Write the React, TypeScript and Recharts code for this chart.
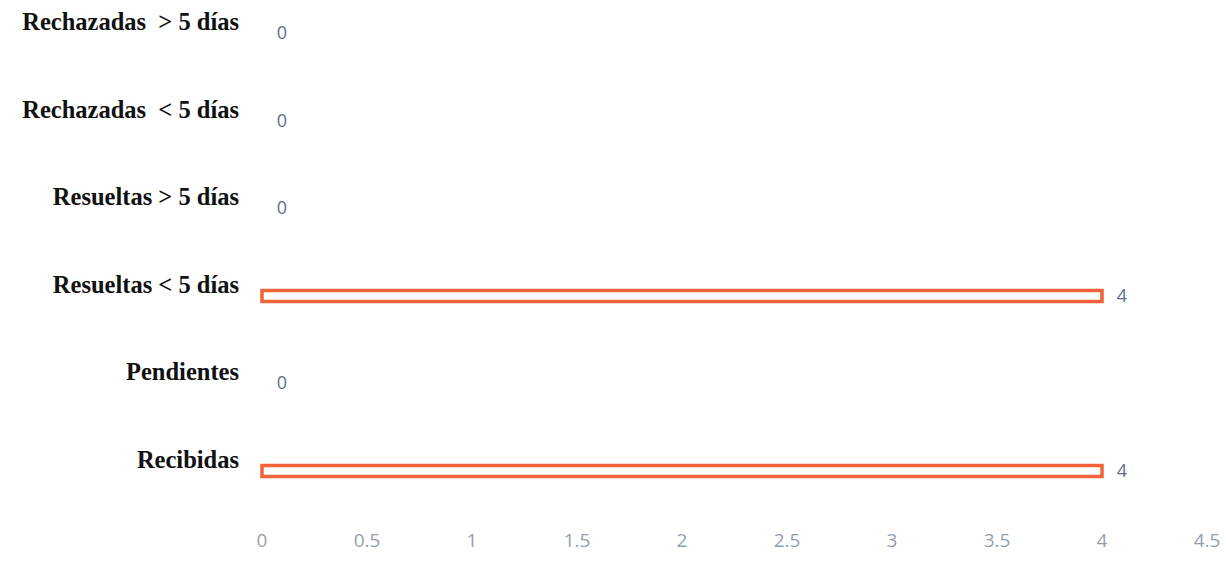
import React from "react";
import { BarChart, Bar, XAxis, YAxis } from "recharts";

const categories = [
  "Rechazadas  > 5 días",
  "Rechazadas  < 5 días",
  "Resueltas > 5 días",
  "Resueltas < 5 días",
  "Pendientes",
  "Recibidas",
];
const values = [0, 0, 0, 4, 0, 4];
const xTicks = [0, 0.5, 1, 1.5, 2, 2.5, 3, 3.5, 4, 4.5];

const data = categories.map((c, i) => ({ name: c, value: values[i] }));

const YTick = (props: any) => {
  const { x, y, payload } = props;
  return (
    <text
      x={x - 15}
      y={y - 9}
      textAnchor="end"
      dominantBaseline="middle"
      fontFamily="'Liberation Serif', 'Times New Roman', serif"
      fontWeight="bold"
      fontSize={24.5}
      fill="#111"
      style={{ whiteSpace: "pre" }}
    >
      {payload.value}
    </text>
  );
};

const BarShape = (props: any) => {
  const { x, y, width, height, value } = props;
  const v = Array.isArray(value) ? value[1] - value[0] : value;
  return (
    <g>
      {width > 0 && (
        <rect
          x={x}
          y={y}
          width={width}
          height={height}
          fill="#ffffff"
          stroke="#F4623A"
          strokeWidth={3.5}
        />
      )}
      <text
        x={x + width + 20}
        y={y + height / 2 + 1}
        textAnchor="middle"
        dominantBaseline="middle"
        fill="#5E708A"
        fontSize={18}
        fontFamily="'Open Sans', sans-serif"
      >
        {v}
      </text>
    </g>
  );
};

export default function App() {
  return (
    <div style={{ position: "absolute", left: 0, top: 0, width: 1226, height: 565, background: "#fff", overflow: "hidden" }}>
      <BarChart
        width={1226}
        height={565}
        data={data}
        layout="vertical"
        margin={{ top: -10, right: 19, bottom: 20, left: 0 }}
        barSize={11}
      >
        <XAxis
          type="number"
          domain={[0, 4.5]}
          ticks={xTicks}
          axisLine={false}
          tickLine={false}
          tick={{ fill: "#949FAC", fontSize: 19, fontFamily: "'Open Sans', sans-serif" }}
          dy={11}
          interval={0}
          height={30}
        />
        <YAxis
          type="category"
          dataKey="name"
          width={262}
          axisLine={false}
          tickLine={false}
          tick={<YTick />}
          interval={0}
        />
        <Bar dataKey="value" shape={<BarShape />} isAnimationActive={false} />
      </BarChart>
    </div>
  );
}
